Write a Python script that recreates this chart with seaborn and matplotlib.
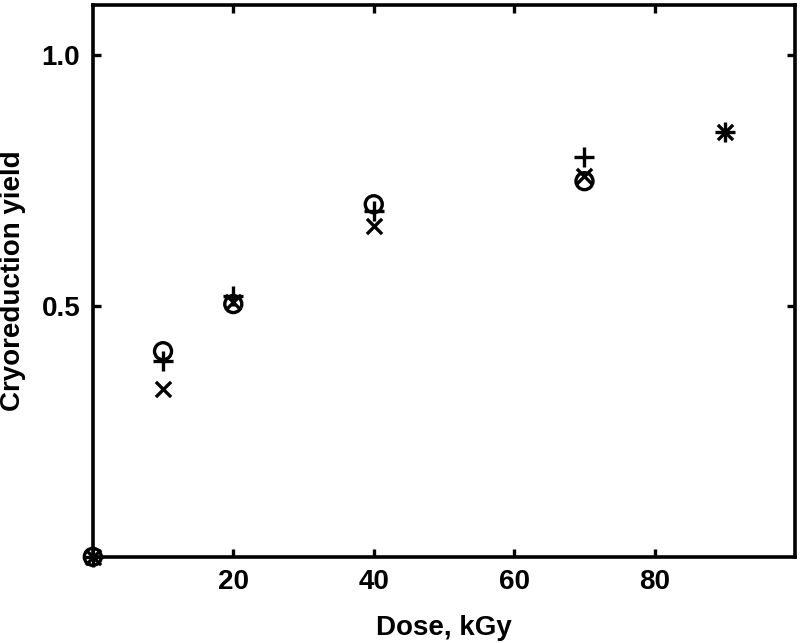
import pandas as pd
import matplotlib.pyplot as plt
import seaborn as sns

# Data
dose_o = [0, 10, 20, 40, 70]
yield_o = [0.0, 0.41, 0.504, 0.703, 0.749]

dose_p = [0, 10, 20, 40, 70, 90]
yield_p = [0.0, 0.39, 0.52, 0.69, 0.797, 0.847]

dose_x = [0, 10, 20, 40, 70, 90]
yield_x = [0.0, 0.335, 0.508, 0.66, 0.759, 0.847]

x_ticks = [20, 40, 60, 80]
y_ticks = [0.5, 1.0]

sns.set_style('white')
plt.rcParams['font.family'] = ['Liberation Sans', 'DejaVu Sans']
plt.rcParams['font.weight'] = 'bold'
plt.rcParams['text.color'] = 'black'
plt.rcParams['axes.labelcolor'] = 'black'
plt.rcParams['xtick.color'] = 'black'
plt.rcParams['ytick.color'] = 'black'

fig = plt.figure(figsize=(8, 6.43), dpi=100)
ax = fig.add_axes([0.116, 0.134, 0.878, 0.858])

df_o = pd.DataFrame({'dose': dose_o, 'y': yield_o})
df_p = pd.DataFrame({'dose': dose_p, 'y': yield_p})
df_x = pd.DataFrame({'dose': dose_x, 'y': yield_x})

sns.scatterplot(ax=ax, data=df_o, x='dose', y='y', marker='o', s=150,
                facecolor='none', edgecolor='black', linewidth=2.4, clip_on=False, zorder=3)
sns.scatterplot(ax=ax, data=df_p, x='dose', y='y', marker='+', s=190,
                color='black', linewidth=2.4, clip_on=False, zorder=3)
sns.scatterplot(ax=ax, data=df_x, x='dose', y='y', marker='x', s=120,
                color='black', linewidth=2.4, clip_on=False, zorder=3)

ax.set_xlim(0, 100)
ax.set_ylim(0, 1.1)
ax.set_xticks(x_ticks)
ax.set_yticks(y_ticks)
ax.set_yticklabels(['0.5', '1.0'])
ax.tick_params(direction='in', length=6, width=2.4, top=True, right=True,
               labelsize=20, pad=9, bottom=True, left=True, colors='black')
for lab in ax.get_xticklabels() + ax.get_yticklabels():
    lab.set_fontweight('bold')
for sp in ax.spines.values():
    sp.set_linewidth(2.6)
    sp.set_color('black')

ax.set_xlabel('Dose, kGy', fontsize=20, fontweight='bold', labelpad=14, color='black')
ax.set_ylabel('Cryoreduction yield', fontsize=20, fontweight='bold', labelpad=11, color='black')

plt.savefig('out.png', dpi=100)
